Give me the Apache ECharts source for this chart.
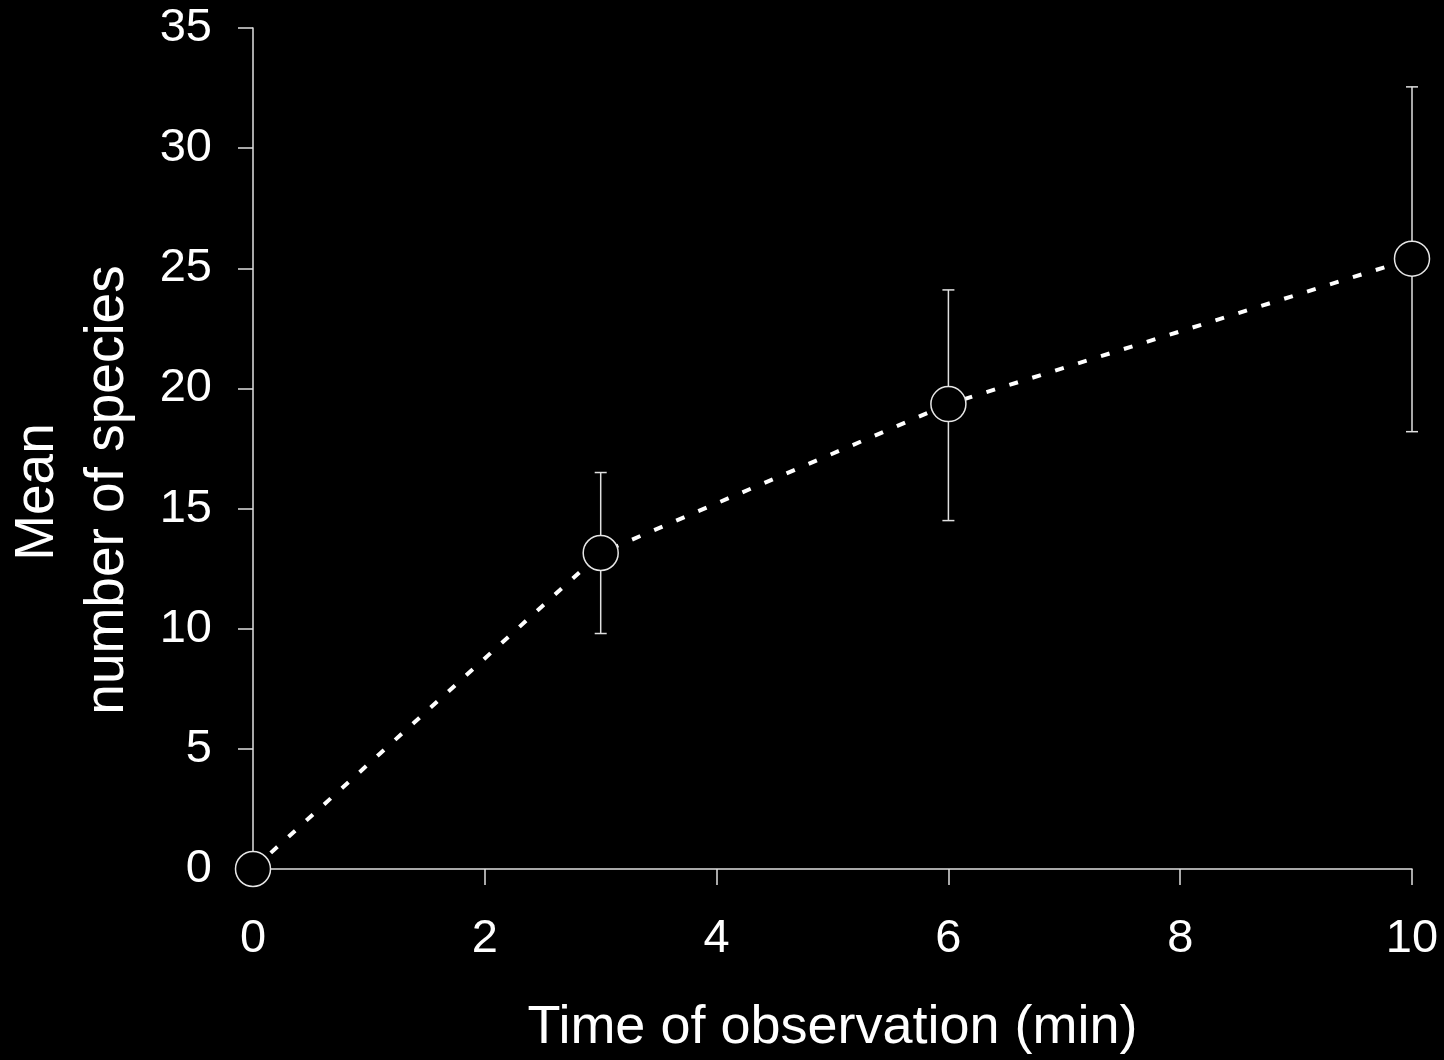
<!DOCTYPE html>
<html>
<head>
<meta charset="utf-8">
<script src="https://cdn.jsdelivr.net/npm/echarts@6/dist/echarts.min.js"></script>
<style>
  html, body { margin: 0; padding: 0; background: #000; }
  #chart { width: 1444px; height: 1060px; }
</style>
</head>
<body>
<div id="chart"></div>
<script>
// observation times (min) and mean species counts
var times = [0, 3, 6, 10];
var meanSpecies = [0, 13.15, 19.35, 25.4];
var errLow = [0, 9.8, 14.5, 18.2];
var errHigh = [0, 16.5, 24.1, 32.55];

var font = 'Liberation Sans, Arial, sans-serif';
var fg = '#ffffff';

var chart = echarts.init(document.getElementById('chart'));

var lineData = times.map(function (t, i) { return [t, meanSpecies[i]]; });
var errData = times.map(function (t, i) { return [t, errLow[i], errHigh[i]]; });

var option = {
    backgroundColor: '#000000',
    animation: false,
    grid: {
        left: 253,
        right: 32,
        top: 28,
        bottom: 190
    },
    xAxis: {
        type: 'value',
        min: 0,
        max: 10,
        interval: 2,
        name: 'Time of observation (min)',
        nameLocation: 'middle',
        nameGap: 132,
        nameTextStyle: { color: fg, fontSize: 54, fontFamily: font },
        axisLine: { show: true, onZero: false, lineStyle: { color: '#e0e0e0', width: 1.5 } },
        axisTick: { show: true, inside: false, length: 16, lineStyle: { color: '#e0e0e0', width: 1.5 } },
        axisLabel: { color: fg, fontSize: 47, fontFamily: font, margin: 47 },
        splitLine: { show: false }
    },
    yAxis: {
        type: 'value',
        min: 0,
        max: 35,
        interval: 5,
        axisLine: { show: true, onZero: false, lineStyle: { color: '#e0e0e0', width: 1.5 } },
        axisTick: { show: true, inside: false, length: 15, lineStyle: { color: '#e0e0e0', width: 1.5 } },
        axisLabel: { color: fg, fontSize: 47, fontFamily: font, margin: 41 },
        splitLine: { show: false }
    },
    graphic: [
        {
            type: 'text',
            x: 38,
            y: 492,
            rotation: Math.PI / 2,
            style: {
                text: 'Mean',
                fill: fg,
                font: '55px ' + font,
                textAlign: 'center',
                textVerticalAlign: 'middle'
            }
        },
        {
            type: 'text',
            x: 108,
            y: 490,
            rotation: Math.PI / 2,
            style: {
                text: 'number of species',
                fill: fg,
                font: '55px ' + font,
                textAlign: 'center',
                textVerticalAlign: 'middle'
            }
        }
    ],
    series: [
        {
            type: 'custom',
            name: 'error',
            z: 1,
            data: errData,
            renderItem: function (params, api) {
                var x = api.value(0);
                var lo = api.coord([x, api.value(1)]);
                var hi = api.coord([x, api.value(2)]);
                var half = 6;
                var style = { stroke: '#e0e0e0', lineWidth: 1.5 };
                return {
                    type: 'group',
                    children: [
                        { type: 'line', shape: { x1: lo[0], y1: lo[1], x2: hi[0], y2: hi[1] }, style: style },
                        { type: 'line', shape: { x1: hi[0] - half, y1: hi[1], x2: hi[0] + half, y2: hi[1] }, style: style },
                        { type: 'line', shape: { x1: lo[0] - half, y1: lo[1], x2: lo[0] + half, y2: lo[1] }, style: style }
                    ]
                };
            }
        },
        {
            type: 'line',
            name: 'mean',
            z: 3,
            data: lineData,
            symbol: 'circle',
            symbolSize: 35,
            showSymbol: true,
            lineStyle: { color: '#ffffff', width: 4, type: [9, 15], cap: 'butt' },
            itemStyle: { color: '#000000', borderColor: '#e6e6e6', borderWidth: 1.5 }
        }
    ]
};

chart.setOption(option);
</script>
</body>
</html>
